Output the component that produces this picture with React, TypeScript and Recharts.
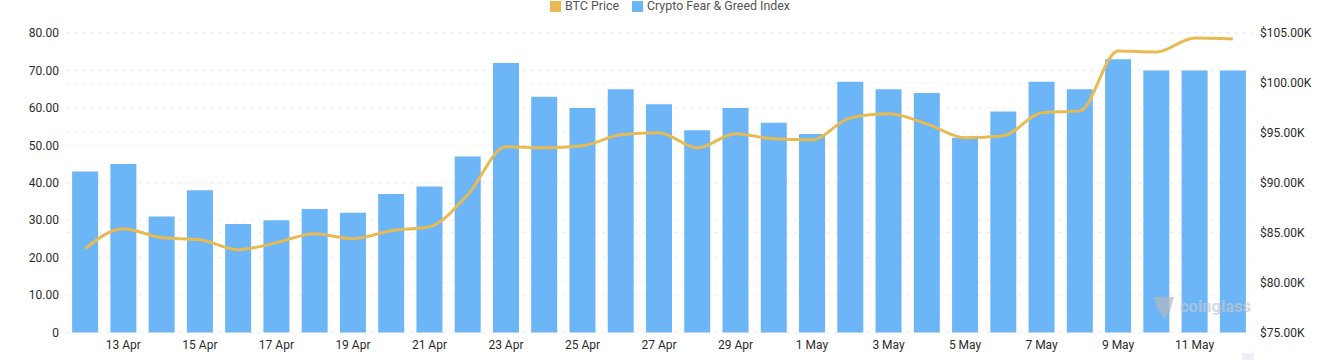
import {
  Bar,
  CartesianGrid,
  ComposedChart,
  Legend,
  Line,
  XAxis,
  YAxis,
} from "recharts";

const days = [
  "12 Apr", "13 Apr", "14 Apr", "15 Apr", "16 Apr", "17 Apr", "18 Apr", "19 Apr",
  "20 Apr", "21 Apr", "22 Apr", "23 Apr", "24 Apr", "25 Apr", "26 Apr", "27 Apr",
  "28 Apr", "29 Apr", "30 Apr", "1 May", "2 May", "3 May", "4 May", "5 May",
  "6 May", "7 May", "8 May", "9 May", "10 May", "11 May", "12 May",
];

const fearGreed = [
  43, 45, 31, 38, 29, 30, 33, 32, 37, 39, 47, 72, 63, 60, 65, 61,
  54, 60, 56, 53, 67, 65, 64, 52, 59, 67, 65, 73, 70, 70, 70,
];

// in thousands of USD
const btcPrice = [
  83.4, 85.4, 84.5, 84.3, 83.3, 84.0, 84.9, 84.4, 85.2, 85.6, 88.8, 93.6, 93.5, 93.7, 94.8, 95.0,
  93.5, 94.9, 94.4, 94.3, 96.5, 96.9, 95.9, 94.5, 94.7, 97.0, 97.2, 103.2, 103.1, 104.5, 104.4,
];

const dateTicks = [
  "13 Apr", "15 Apr", "17 Apr", "19 Apr", "21 Apr", "23 Apr", "25 Apr", "27 Apr", "29 Apr",
  "1 May", "3 May", "5 May", "7 May", "9 May", "11 May",
];
const indexTicks = [0, 10, 20, 30, 40, 50, 60, 70, 80];
const priceTicks = [75, 80, 85, 90, 95, 100, 105];

const data = days.map((day, i) => ({ day, index: fearGreed[i], price: btcPrice[i] }));

const FONT = "Roboto, sans-serif";
const tickStyle = { fill: "#2b2b2b", fontSize: 12, fontFamily: FONT };
const gridDash = "4 4";
const gridColor = "#efefef";

export default function App() {
  return (
    <div style={{ position: "absolute", left: 0, top: 0, width: 1322, height: 360, background: "#fff", overflow: "hidden" }}>
      <ComposedChart width={1322} height={360} data={data} barCategoryGap="16%" margin={{ top: 18, right: 0, bottom: 0, left: 0 }}>
        <CartesianGrid yAxisId="left" vertical={false} stroke={gridColor} strokeDasharray={gridDash} />
        <CartesianGrid yAxisId="right" vertical={false} stroke={gridColor} strokeDasharray={gridDash} />
        <XAxis
          dataKey="day"
          ticks={dateTicks}
          interval={0}
          height={27.5}
          tick={tickStyle}
          axisLine={false}
          tickLine={false}
          tickMargin={2}
        />
        <YAxis
          yAxisId="left"
          width={66}
          domain={[0, 80]}
          ticks={indexTicks}
          tickFormatter={(v: number) => (v === 0 ? "0" : v.toFixed(2))}
          tick={tickStyle}
          axisLine={false}
          tickLine={false}
          tickMargin={1}
        />
        <YAxis
          yAxisId="right"
          orientation="right"
          width={70}
          domain={[75, 105]}
          ticks={priceTicks}
          tickFormatter={(v: number) => `$${v.toFixed(2)}K`}
          tick={tickStyle}
          axisLine={false}
          tickLine={false}
          tickMargin={2}
        />
        <Legend
          verticalAlign="top"
          align="center"
          height={0}
          iconType="square"
          iconSize={11}
          wrapperStyle={{ top: -2, left: 14, fontFamily: FONT, fontSize: 12.4, color: "#555" }}
          formatter={(value: string, _entry, i: number) => (
            <span style={{ color: "#555", marginRight: i === 0 ? 3 : 0 }}>{value}</span>
          )}
        />
        <Bar yAxisId="left" dataKey="index" name="Crypto Fear & Greed Index" fill="#6CB5F7" isAnimationActive={false} />
        <Line
          yAxisId="right"
          dataKey="price"
          name="BTC Price"
          type="monotone"
          stroke="#E8BA52"
          strokeWidth={3}
          dot={false}
          isAnimationActive={false}
        />
      </ComposedChart>
      <div
        style={{
          position: "absolute",
          left: 1180,
          top: 297,
          fontFamily: FONT,
          fontSize: 16.5,
          fontWeight: 700,
          color: "#c4c8cc",
          opacity: 0.7,
        }}
      >
        coinglass
      </div>
      <svg style={{ position: "absolute", left: 1152, top: 295, opacity: 0.7 }} width={24} height={26}>
        <path d="M2 2 L22 2 L18 16 L13 24 L9 18 L5 13 Z" fill="#b5b9bd" />
      </svg>
      <div style={{ position: "absolute", left: 1242, top: 353, width: 12, height: 7, background: "#eeeefb" }} />
    </div>
  );
}
